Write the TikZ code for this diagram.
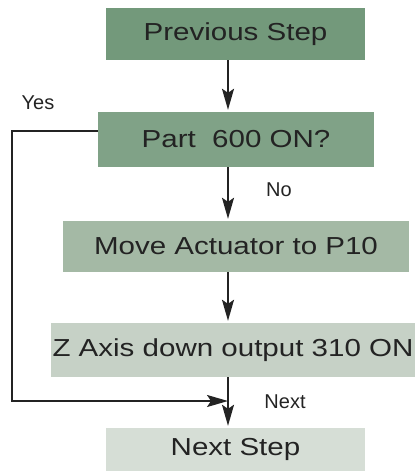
\documentclass[tikz,border=0pt]{standalone}
\usepackage{fontspec}
\setmainfont{Liberation Sans}
\newfontfamily\boxfont[FakeStretch=1.2]{Liberation Sans}
\usetikzlibrary{arrows.meta}
\definecolor{stepA}{RGB}{115,153,123}
\definecolor{stepB}{RGB}{128,162,135}
\definecolor{stepC}{RGB}{164,185,165}
\definecolor{stepD}{RGB}{198,209,198}
\definecolor{stepE}{RGB}{214,222,214}
\definecolor{ink}{RGB}{35,35,35}
\tikzset{
  stepbox/.style={rectangle, inner sep=0pt, text=ink,
    font=\boxfont\fontsize{24.6}{28}\selectfont},
  flow/.style={line width=1.8pt, draw=ink,
    -{Stealth[length=21pt,width=12pt,inset=4pt]}, shorten >=2pt},
  lbl/.style={text=ink, font=\fontsize{20}{24}\selectfont, inner sep=0pt}
}
\begin{document}
\begin{tikzpicture}[x=1pt,y=-1pt]
\useasboundingbox (0,0) rectangle (415,471);
% process boxes
\node[stepbox, fill=stepA, minimum width=259pt, minimum height=52pt] (prev) at (235.5,34) {Previous Step};
\node[stepbox, fill=stepB, minimum width=276pt, minimum height=55pt] (part) at (236,139.5) {Part\ \ 600 ON?};
\node[stepbox, fill=stepC, minimum width=346pt, minimum height=51pt] (move) at (236,246.5) {Move Actuator to P10};
\node[stepbox, fill=stepD, minimum width=364pt, minimum height=54pt] (zaxis) at (233,350) {Z Axis down output 310 ON};
\node[stepbox, fill=stepE, minimum width=259pt, minimum height=43pt] (next) at (235.5,449.5) {Next Step};
% main flow line
\coordinate (mainx) at (228,0);
\draw[flow] (prev.south -| mainx) -- (part.north -| mainx);
\draw[flow] (part.south -| mainx) -- (move.north -| mainx);
\draw[flow] (move.south -| mainx) -- (zaxis.north -| mainx);
\draw[flow] (zaxis.south -| mainx) -- (next.north -| mainx);
% "Yes" bypass loop
\coordinate (yesy) at (0,131);
\coordinate (loopc) at (12,401);
\coordinate (join) at (228,401);
\draw[flow, shorten >=0pt] (part.west |- yesy) -| (loopc) -- (join);
% branch labels
\node[lbl] (yes) at (38,103) {Yes};
\node[lbl] (no) at (279,190) {No};
\node[lbl] (nxt) at (285,402) {Next};
\end{tikzpicture}
\end{document}
